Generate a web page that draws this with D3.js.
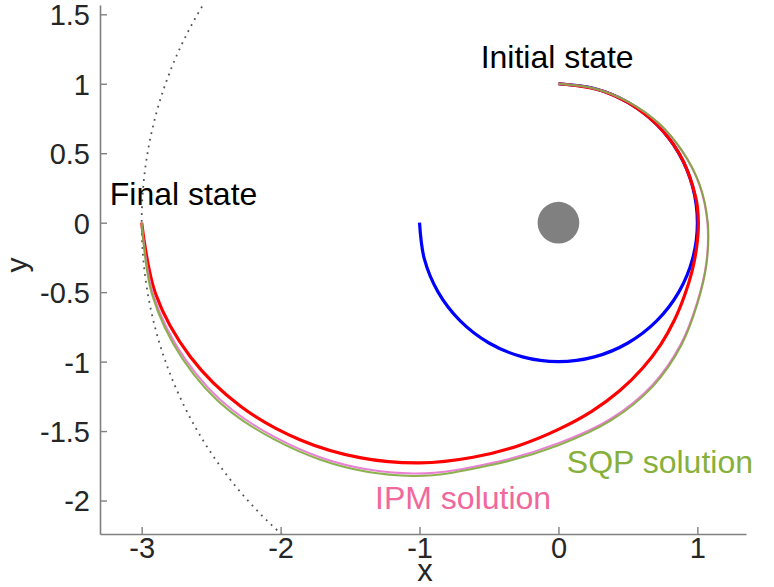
<!DOCTYPE html>
<html>
<head>
<meta charset="utf-8">
<script src="https://cdn.jsdelivr.net/npm/d3@7"></script>
<style>
  html, body { margin: 0; padding: 0; background: #fff; }
  svg { display: block; }
  text { font-family: "Liberation Sans", Arial, sans-serif; }
</style>
</head>
<body>
<svg id="chart" width="774" height="587"></svg>
<script>
// ---- data ----
// Trajectories are given in polar form about the central body:
// angle in degrees, measured clockwise from the +y axis; radius in plot units.
const xTicks = [-3, -2, -1, 0, 1];
const yTicks = [-2, -1.5, -1, -0.5, 0, 0.5, 1, 1.5];

// initial circular orbit (blue)
const blueAngle  = [0, 15, 30, 45, 60, 75, 90, 105, 120, 135, 150, 165, 180, 195, 210, 225, 240, 255, 270];
const blueRadius = [1, 1, 1, 1, 1, 1, 1, 1, 1, 1, 1, 1, 1, 1, 1, 1, 1, 1, 1];

// target orbit (grey, dotted)
const targetAngle  = [200, 210, 220, 230, 240, 250, 260, 270, 280, 290, 300, 310, 320];
const targetRadius = [3, 3, 3, 3, 3, 3, 3, 3, 3, 3, 3, 3, 3];

// red trajectory
const redAngle  = [0, 20, 40, 60, 80, 90, 100, 110, 120, 130, 140, 150, 160, 170, 180, 190, 200, 210, 220, 230, 240, 250, 260, 270];
const redRadius = [1.0, 1.0, 1.0, 1.002, 1.005, 1.007, 1.01, 1.023, 1.048, 1.09, 1.145, 1.21, 1.288, 1.379, 1.488, 1.628, 1.797, 1.997, 2.21, 2.43, 2.642, 2.82, 2.945, 3.0];

// IPM solution (pink)
const ipmAngle  = [0, 15, 30, 45, 60, 75, 90, 105, 120, 135, 150, 165, 180, 195, 210, 225, 240, 250, 260, 270];
const ipmRadius = [1.0, 1.0, 1.004, 1.015, 1.028, 1.05, 1.072, 1.102, 1.152, 1.242, 1.35, 1.46, 1.587, 1.787, 2.085, 2.398, 2.705, 2.862, 2.963, 3.0];

// SQP solution (green)
const sqpAngle  = [0, 15, 30, 45, 60, 75, 90, 105, 120, 135, 150, 165, 180, 195, 210, 225, 240, 250, 260, 270];
const sqpRadius = [1.0, 1.0, 1.005, 1.017, 1.03, 1.053, 1.075, 1.105, 1.157, 1.25, 1.36, 1.472, 1.602, 1.802, 2.105, 2.416, 2.724, 2.877, 2.971, 3.0];

const planet = { x: 0, y: 0, r: 0.15 };

const annotations = [
  { text: "Initial state", x: -0.56, y: 1.11, color: "#000000" },
  { text: "Final state", x: -3.23, y: 0.13, color: "#000000" },
  { text: "SQP solution", x: 0.06, y: -1.80, color: "#86b03a" },
  { text: "IPM solution", x: -1.32, y: -2.06, color: "#f0689c" }
];

// ---- layout ----
const svg = d3.select("#chart");
const mLeft = 100, mRight = 746, mTop = 5, mBottom = 534;
const x = d3.scaleLinear().domain([-3.30, 1.35]).range([mLeft, mRight]);
const y = d3.scaleLinear().domain([-2.241, 1.567]).range([mBottom, mTop]);
const rad = d3.scaleLinear().domain([0, 1]).range([0, x(1) - x(0)]);
const ang = d3.scaleLinear().domain([0, 360]).range([0, 2 * Math.PI]);

svg.append("defs").append("clipPath").attr("id", "plotclip")
  .append("rect").attr("x", mLeft).attr("y", mTop).attr("width", mRight - mLeft).attr("height", mBottom - mTop);

const plot = svg.append("g").attr("clip-path", "url(#plotclip)");
const orbitG = plot.append("g").attr("transform", `translate(${x(planet.x)},${y(planet.y)})`);
const zip = (as, rs) => as.map((a, i) => [a, rs[i]]);
const radial = d3.lineRadial().angle(d => ang(d[0])).radius(d => rad(d[1]))
  .curve(d3.curveCatmullRom.alpha(0.5));

orbitG.append("path").datum(zip(targetAngle, targetRadius)).attr("d", radial)
  .attr("fill", "none").attr("stroke", "#555555").attr("stroke-width", 1.8)
  .attr("stroke-dasharray", "1.8,5");

orbitG.append("circle").attr("cx", 0).attr("cy", 0)
  .attr("r", rad(planet.r)).attr("fill", "#808080");

orbitG.append("path").datum(zip(blueAngle, blueRadius)).attr("d", radial)
  .attr("fill", "none").attr("stroke", "#0000ff").attr("stroke-width", 3.2);

orbitG.append("path").datum(zip(redAngle, redRadius)).attr("d", radial)
  .attr("fill", "none").attr("stroke", "#ff0000").attr("stroke-width", 3.2);

orbitG.append("path").datum(zip(ipmAngle, ipmRadius)).attr("d", radial)
  .attr("fill", "none").attr("stroke", "#ea80d4").attr("stroke-width", 2);

orbitG.append("path").datum(zip(sqpAngle, sqpRadius)).attr("d", radial)
  .attr("fill", "none").attr("stroke", "#78a530").attr("stroke-width", 2)
  .attr("stroke-opacity", 0.85);

// ---- axes ----
const axisColor = "#808080";
const fmt = d => String(d);

const gx = svg.append("g").attr("transform", `translate(0,${mBottom})`)
  .call(d3.axisBottom(x).tickValues(xTicks).tickFormat(fmt).tickSizeInner(-7).tickSizeOuter(0).tickPadding(5));
const gy = svg.append("g").attr("transform", `translate(${mLeft},0)`)
  .call(d3.axisLeft(y).tickValues(yTicks).tickFormat(fmt).tickSizeInner(-7).tickSizeOuter(0).tickPadding(10));

[gx, gy].forEach(g => {
  g.select(".domain").attr("stroke", axisColor).attr("stroke-width", 1.6);
  g.selectAll(".tick line").attr("stroke", axisColor).attr("stroke-width", 1.4);
  g.selectAll(".tick text").attr("fill", "#262626").style("font-size", "29px")
    .style("font-family", "'Liberation Sans', Arial, sans-serif");
});
gy.selectAll(".tick text").attr("dy", "0.36em");
gx.selectAll(".tick text").attr("dy", "0.66em");

svg.append("text").attr("x", 425).attr("y", 581)
  .attr("text-anchor", "middle").attr("fill", "#262626").style("font-size", "31px").text("x");
svg.append("text").attr("transform", "translate(27,265) rotate(-90)")
  .attr("text-anchor", "middle").attr("fill", "#262626").style("font-size", "30px").text("y");

// ---- annotations ----
svg.selectAll("text.ann").data(annotations).enter().append("text")
  .attr("class", "ann")
  .attr("x", d => x(d.x)).attr("y", d => y(d.y))
  .attr("fill", d => d.color).style("font-size", "32px")
  .text(d => d.text);
</script>
</body>
</html>
